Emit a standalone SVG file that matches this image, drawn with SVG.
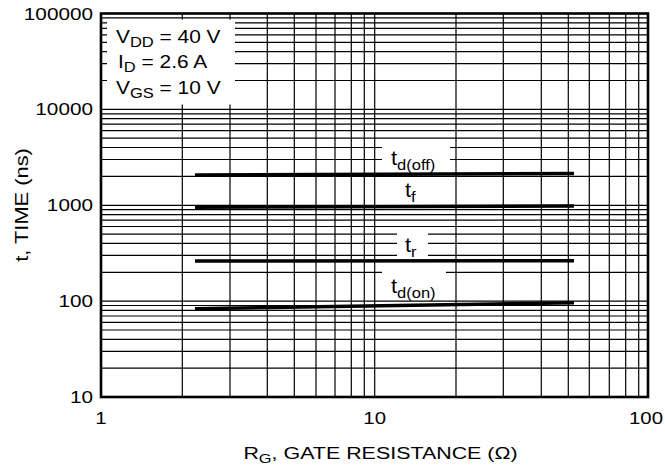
<svg xmlns="http://www.w3.org/2000/svg" width="665" height="472" viewBox="0 0 665 472">
<style>
text{font-family:"Liberation Sans",Arial,Helvetica,sans-serif;fill:#000}
.tk{font-size:17px}
.lg{font-size:19px}
.cl{font-size:20px}
.sub{font-size:15px}
.grid line{stroke:#000;stroke-width:1.2}
.curve{fill:none;stroke:#000;stroke-width:3.4;stroke-linecap:butt}
</style>
<rect width="665" height="472" fill="#fff"/>
<g id="grid" class="grid">
<line x1="182.3" y1="13.5" x2="182.3" y2="397"/>
<line x1="230" y1="13.5" x2="230" y2="397"/>
<line x1="267.3" y1="13.5" x2="267.3" y2="397"/>
<line x1="294.3" y1="13.5" x2="294.3" y2="397"/>
<line x1="316" y1="13.5" x2="316" y2="397"/>
<line x1="335" y1="13.5" x2="335" y2="397"/>
<line x1="351.3" y1="13.5" x2="351.3" y2="397"/>
<line x1="364.3" y1="13.5" x2="364.3" y2="397"/>
<line x1="374.7" y1="13.5" x2="374.7" y2="397"/>
<line x1="456" y1="13.5" x2="456" y2="397"/>
<line x1="503.3" y1="13.5" x2="503.3" y2="397"/>
<line x1="541.3" y1="13.5" x2="541.3" y2="397"/>
<line x1="568.3" y1="13.5" x2="568.3" y2="397"/>
<line x1="589.3" y1="13.5" x2="589.3" y2="397"/>
<line x1="609.3" y1="13.5" x2="609.3" y2="397"/>
<line x1="625.7" y1="13.5" x2="625.7" y2="397"/>
<line x1="638.7" y1="13.5" x2="638.7" y2="397"/>
<line x1="101" y1="368.1" x2="648" y2="368.1"/>
<line x1="101" y1="351.3" x2="648" y2="351.3"/>
<line x1="101" y1="339.3" x2="648" y2="339.3"/>
<line x1="101" y1="330" x2="648" y2="330"/>
<line x1="101" y1="322.4" x2="648" y2="322.4"/>
<line x1="101" y1="316" x2="648" y2="316"/>
<line x1="101" y1="310.4" x2="648" y2="310.4"/>
<line x1="101" y1="305.5" x2="648" y2="305.5"/>
<line x1="101" y1="301.1" x2="648" y2="301.1"/>
<line x1="101" y1="272.3" x2="648" y2="272.3"/>
<line x1="101" y1="255.4" x2="648" y2="255.4"/>
<line x1="101" y1="243.4" x2="648" y2="243.4"/>
<line x1="101" y1="234.1" x2="648" y2="234.1"/>
<line x1="101" y1="226.5" x2="648" y2="226.5"/>
<line x1="101" y1="220.1" x2="648" y2="220.1"/>
<line x1="101" y1="214.6" x2="648" y2="214.6"/>
<line x1="101" y1="209.6" x2="648" y2="209.6"/>
<line x1="101" y1="205.3" x2="648" y2="205.3"/>
<line x1="101" y1="176.4" x2="648" y2="176.4"/>
<line x1="101" y1="159.5" x2="648" y2="159.5"/>
<line x1="101" y1="147.5" x2="648" y2="147.5"/>
<line x1="101" y1="138.2" x2="648" y2="138.2"/>
<line x1="101" y1="130.7" x2="648" y2="130.7"/>
<line x1="101" y1="124.2" x2="648" y2="124.2"/>
<line x1="101" y1="118.7" x2="648" y2="118.7"/>
<line x1="101" y1="113.8" x2="648" y2="113.8"/>
<line x1="101" y1="109.4" x2="648" y2="109.4"/>
<line x1="101" y1="80.5" x2="648" y2="80.5"/>
<line x1="101" y1="63.6" x2="648" y2="63.6"/>
<line x1="101" y1="51.7" x2="648" y2="51.7"/>
<line x1="101" y1="42.4" x2="648" y2="42.4"/>
<line x1="101" y1="34.8" x2="648" y2="34.8"/>
<line x1="101" y1="28.4" x2="648" y2="28.4"/>
<line x1="101" y1="22.8" x2="648" y2="22.8"/>
<line x1="101" y1="17.9" x2="648" y2="17.9"/>
</g>
<g id="masks" fill="#fff">
<rect x="107" y="19.5" width="128" height="85"/>
<rect x="382" y="142" width="68" height="30"/>
<rect x="397" y="180" width="30" height="21"/>
<rect x="397" y="232" width="31" height="25"/>
<rect x="382" y="268" width="64" height="29"/>
</g>
<rect id="frame" x="101" y="13.5" width="547" height="383.5" fill="none" stroke="#000" stroke-width="2.6"/>
<g id="connectors">
<polyline id="c-tdoff" class="curve" points="195,175 574,173.5"/>
<polyline id="c-tf" class="curve" points="195,207.3 574,206"/>
<polyline id="c-tr" class="curve" points="195,261 574,260.7"/>
<polyline id="c-tdon" class="curve" points="195,308.7 574,302.7"/>
</g>
<g id="label-tdoff"><text class="cl" transform="translate(391,165) scale(1.1,1)">t<tspan class="sub" dy="5">d(off)</tspan></text></g>
<g id="label-tf"><text class="cl" transform="translate(405,197) scale(1.1,1)">t<tspan class="sub" dy="5">f</tspan></text></g>
<g id="label-tr"><text class="cl" transform="translate(405,252) scale(1.1,1)">t<tspan class="sub" dy="5">r</tspan></text></g>
<g id="label-tdon"><text class="cl" transform="translate(391,293) scale(1.1,1)">t<tspan class="sub" dy="5">d(on)</tspan></text></g>
<g id="legend">
<text class="lg" transform="translate(116,42.5) scale(1.1,1)">V<tspan class="sub" dy="4">DD</tspan><tspan dy="-4"> = 40 V</tspan></text>
<text class="lg" transform="translate(118,68) scale(1.1,1)">I<tspan class="sub" dy="4">D</tspan><tspan dy="-4"> = 2.6 A</tspan></text>
<text class="lg" transform="translate(116,93.5) scale(1.1,1)">V<tspan class="sub" dy="4">GS</tspan><tspan dy="-4"> = 10 V</tspan></text>
</g>
<g id="y-ticks" text-anchor="end">
<text class="tk" transform="translate(93,19.5) scale(1.22,1)">100000</text>
<text class="tk" transform="translate(93,115.3) scale(1.22,1)">10000</text>
<text class="tk" transform="translate(93,211.2) scale(1.22,1)">1000</text>
<text class="tk" transform="translate(93,307.1) scale(1.22,1)">100</text>
<text class="tk" transform="translate(93,403) scale(1.22,1)">10</text>
</g>
<g id="x-ticks" text-anchor="middle">
<text class="tk" transform="translate(101,424) scale(1.2,1)">1</text>
<text class="tk" transform="translate(374.7,424) scale(1.2,1)">10</text>
<text class="tk" transform="translate(646,424) scale(1.2,1)">100</text>
</g>
<g id="axis-titles">
<text class="tk" text-anchor="middle" transform="translate(380.5,459) scale(1.26,1)">R<tspan dy="4" font-size="13px">G</tspan><tspan dy="-4">, GATE RESISTANCE (Ω)</tspan></text>
<text text-anchor="middle" transform="translate(28,205) rotate(-90) scale(1.15,1)" style="font-size:19px">t, TIME (ns)</text>
</g>
</svg>
